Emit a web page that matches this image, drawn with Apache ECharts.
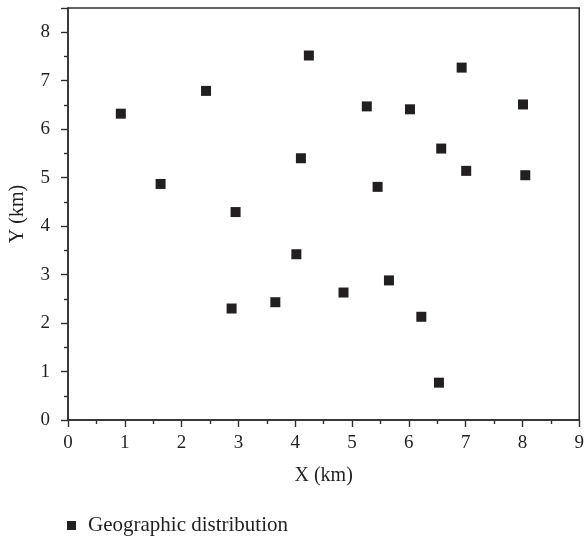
<!DOCTYPE html>
<html><head><meta charset="utf-8">
<script src="https://cdn.jsdelivr.net/npm/echarts@6/dist/echarts.min.js"></script>
<style>html,body{margin:0;padding:0;background:#fff}#c{width:587px;height:539px}</style>
</head><body><div id="c"></div>
<script>
var xValues = [0.93, 1.63, 2.43, 2.95, 2.88, 3.65, 4.02, 4.10, 4.24, 4.85, 5.26, 5.45, 5.65, 6.02, 6.22, 6.53, 6.57, 6.93, 7.01, 8.01, 8.05];
var yValues = [6.32, 4.87, 6.79, 4.29, 2.30, 2.43, 3.42, 5.40, 7.52, 2.63, 6.47, 4.81, 2.88, 6.41, 2.13, 0.77, 5.60, 7.27, 5.14, 6.51, 5.05];
var seriesName = 'Geographic distribution';
var xName = 'X (km)', yName = 'Y (km)';

var pts = xValues.map(function (x, i) { return [x, yValues[i]]; });
var font = 'Liberation Serif';
var axisCol = '#2e2e2e';
var txtCol = '#231f20';
var chart = echarts.init(document.getElementById('c'));
chart.setOption({
  animation: false,
  textStyle: { fontFamily: font },
  grid: { left: 68, right: 6, top: 8, bottom: 119, show: true, borderColor: axisCol, borderWidth: 1.5, backgroundColor: 'transparent' },
  legend: {
    left: 62, top: 510, itemWidth: 9, itemHeight: 9, itemGap: 10,
    textStyle: { fontFamily: font, fontSize: 21, color: txtCol, padding: [0, 0, 0, 7] },
    data: [{ name: seriesName, icon: 'rect' }]
  },
  xAxis: {
    type: 'value', min: 0, max: 9, interval: 1,
    name: xName, nameLocation: 'middle', nameGap: 46,
    nameTextStyle: { fontFamily: font, fontSize: 20, color: txtCol },
    axisLine: { show: true, onZero: false, lineStyle: { color: axisCol, width: 1.5 } },
    axisTick: { show: true, inside: false, length: 7, lineStyle: { color: axisCol, width: 1.4 } },
    minorTick: { show: true, splitNumber: 2, length: 4, lineStyle: { color: axisCol, width: 1.4 } },
    axisLabel: { fontFamily: font, fontSize: 19, color: txtCol, margin: 14 },
    splitLine: { show: false }
  },
  yAxis: {
    type: 'value', min: 0, max: 8.5, interval: 1,
    name: yName, nameLocation: 'middle', nameGap: 40, nameRotate: 90,
    nameTextStyle: { fontFamily: font, fontSize: 20, color: txtCol },
    axisLine: { show: true, onZero: false, lineStyle: { color: axisCol, width: 1.5 } },
    axisTick: { show: true, inside: false, length: 7, lineStyle: { color: axisCol, width: 1.4 } },
    minorTick: { show: true, splitNumber: 2, length: 4, lineStyle: { color: axisCol, width: 1.4 } },
    axisLabel: { fontFamily: font, fontSize: 19, color: txtCol, margin: 18,
      formatter: function (v) { return Number.isInteger(v) ? String(v) : ''; } },
    splitLine: { show: false }
  },
  series: [{
    name: seriesName, type: 'scatter', symbol: 'rect', symbolSize: 10,
    itemStyle: { color: txtCol, opacity: 1 },
    data: pts
  }]
});
</script></body></html>
